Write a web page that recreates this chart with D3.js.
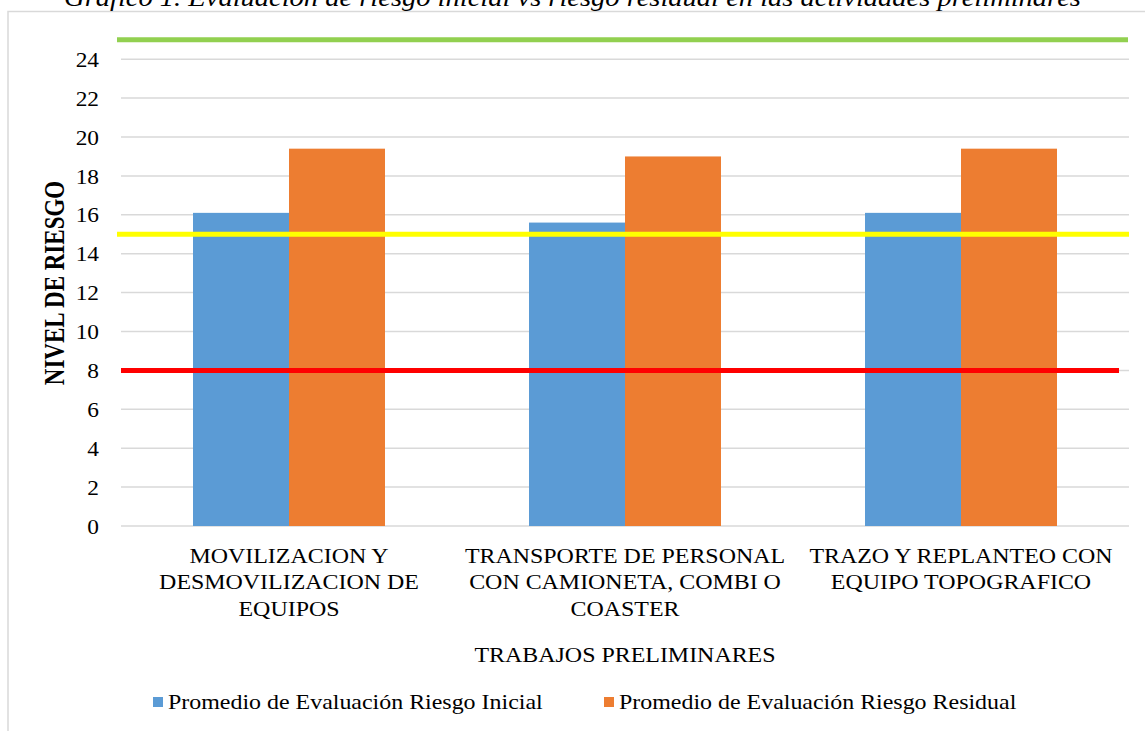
<!DOCTYPE html>
<html><head><meta charset="utf-8">
<script src="https://cdn.jsdelivr.net/npm/d3@7/dist/d3.min.js"></script>
<style>
html,body{margin:0;padding:0;background:#fff;overflow:hidden}
svg text{font-family:"Liberation Serif","Times New Roman",serif;fill:#000}
</style></head><body>
<svg id="c" width="1145" height="731"></svg>
<script>
const categories = [
  ["MOVILIZACION Y","DESMOVILIZACION DE","EQUIPOS"],
  ["TRANSPORTE DE PERSONAL","CON CAMIONETA, COMBI O","COASTER"],
  ["TRAZO Y REPLANTEO CON","EQUIPO TOPOGRAFICO"]
];
const seriesNames = ["Promedio de Evaluación Riesgo Inicial","Promedio de Evaluación Riesgo Residual"];
const riesgoInicial = [16.1, 15.6, 16.1];
const riesgoResidual = [19.4, 19.0, 19.4];
const yTicks = [0,2,4,6,8,10,12,14,16,18,20,22,24];
const limites = [25, 15, 8];
const limiteColores = ["#92d050","#ffff00","#ff0000"];
const colors = ["#5b9bd5","#ed7d31"];
const title = "Gráfico 1. Evaluación de riesgo inicial vs riesgo residual en las actividades preliminares";
const xTitle = "TRABAJOS PRELIMINARES";
const yTitle = "NIVEL DE RIESGO";

const SX = 1.14;
const svg = d3.select("#c");
const L = 121, R = 1129, T = 39.75, B = 526;

svg.append("rect").attr("x",8).attr("y",11.5).attr("width",1200).attr("height",800)
  .attr("fill","none").attr("stroke","#d9d9d9").attr("stroke-width",1.5);

svg.append("text").attr("transform",`translate(572.5,6) scale(${SX},1)`).attr("text-anchor","middle")
  .style("font-style","italic").style("font-size","25px").text(title);

const y = d3.scaleLinear().domain([0,25]).range([B,T]);
const idx = categories.map((d,i)=>i);
const x0 = d3.scaleBand().domain(idx).range([L,R]).paddingInner(0.4286).paddingOuter(0.2143);
const x1 = d3.scaleBand().domain([0,1]).range([0,x0.bandwidth()]);

// gridlines
svg.append("g").selectAll("line").data(yTicks).join("line")
  .attr("x1",L).attr("x2",R).attr("y1",d=>y(d)).attr("y2",d=>y(d))
  .attr("stroke","#d9d9d9").attr("stroke-width",1.5);

// y axis labels
const yAxis = d3.axisLeft(y).tickValues(yTicks).tickSize(0).tickPadding(22);
const ya = svg.append("g").attr("transform",`translate(${L},0)`).call(yAxis);
ya.select(".domain").remove();
ya.selectAll("text").style("font-size","20.5px").attr("x",-22/SX)
  .attr("transform",`scale(${SX},1)`).attr("dy","0.35em");

// bars
const data = idx.map(i=>[riesgoInicial[i], riesgoResidual[i]]);
const g = svg.append("g").selectAll("g").data(data).join("g")
  .attr("transform",(d,i)=>`translate(${x0(i)},0)`);
g.selectAll("rect").data(d=>d).join("rect")
  .attr("x",(d,j)=>x1(j)).attr("width",x1.bandwidth())
  .attr("y",d=>y(d)).attr("height",d=>B-y(d)).attr("fill",(d,j)=>colors[j]);

// reference lines
const extents = [[117,1128],[117,1129],[121,1119]];
svg.append("g").selectAll("line").data(limites).join("line")
  .attr("x1",(d,i)=>extents[i][0]).attr("x2",(d,i)=>extents[i][1])
  .attr("y1",d=>y(d)).attr("y2",d=>y(d))
  .attr("stroke",(d,i)=>limiteColores[i]).attr("stroke-width",5);

// category labels
const cl = svg.append("g").selectAll("text").data(categories).join("text")
  .attr("text-anchor","middle").style("font-size","21px")
  .attr("transform",(d,i)=>`translate(${x0(i)+x0.bandwidth()/2},563) scale(${SX},1)`);
cl.selectAll("tspan").data(d=>d).join("tspan").attr("x",0).attr("y",(d,k)=>k*26.5).text(d=>d);

// axis titles
svg.append("text").attr("transform",`translate(${(L+R)/2},662) scale(${SX},1)`).attr("text-anchor","middle")
  .style("font-size","21px").text(xTitle);
svg.append("text").attr("transform","translate(64,283) scale(1.3,1) rotate(-90)").attr("text-anchor","middle")
  .style("font-size","23px").style("font-weight","bold").text(yTitle);

// legend
const legX = [153, 604];
const lg = svg.append("g").selectAll("g").data(seriesNames).join("g")
  .attr("transform",(d,i)=>`translate(${legX[i]},0)`);
lg.append("rect").attr("x",0).attr("y",697).attr("width",10).attr("height",10).attr("fill",(d,i)=>colors[i]);
lg.append("text").attr("transform",`translate(15,709) scale(${SX},1)`).style("font-size","21px").text(d=>d);
</script></body></html>
